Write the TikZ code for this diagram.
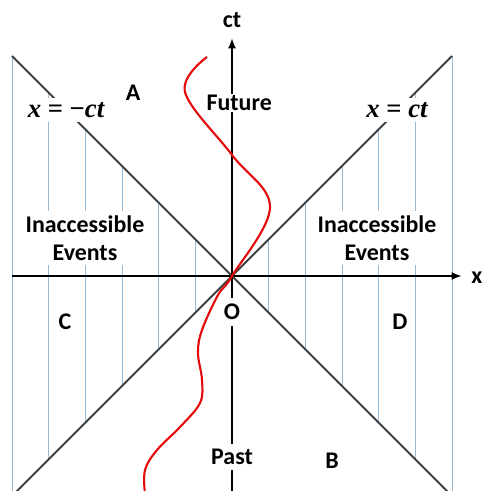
\documentclass[tikz,border=0pt]{standalone}
\usepackage{fontspec}
\setmainfont{Carlito}
\newfontfamily\eqfont{Liberation Serif}
\usepackage{tikz}
\usetikzlibrary{
  arrows.meta,
  positioning
}
\definecolor{conegray}{RGB}{64,64,64}
\definecolor{hatchblue}{RGB}{150,186,214}
\definecolor{worldred}{RGB}{228,10,10}

\begin{document}
\begin{tikzpicture}[
            lbl/.style={fill=white, inner sep=1pt, align=center, font=\fontsize{17}{20}\selectfont\bfseries},
            mlbl/.style={fill=white, inner sep=3pt, font=\fontsize{19}{22}\selectfont\eqfont\bfseries},
            cone/.style={draw=conegray, line width=1.3pt},
            hatch/.style={draw=hatchblue, line width=0.7pt},
            axis/.style={draw=black, line width=1.4pt, -{Latex[length=2.6mm,width=2mm]}}
        ]
            \useasboundingbox (-5.8,-5.375) rectangle (6.225,6.9);
            % hatching of the inaccessible regions
            \foreach \k in {1,...,6} {
                \draw[hatch] ({\k*5.5/6},{\k*5.5/6}) -- ({\k*5.5/6},{-\k*5.5/6});
                \draw[hatch] ({-\k*5.5/6},{\k*5.5/6}) -- ({-\k*5.5/6},{-\k*5.5/6});
            }
            % light cone
            \coordinate (O) at (0,0);
            \coordinate (ul) at (-5.5,5.5);
            \coordinate (ur) at (5.5,5.5);
            \coordinate (ll) at (-5.5,-5.5);
            \coordinate (lr) at (5.5,-5.5);
            \draw[cone] (ul) -- (lr);
            \draw[cone] (ll) -- (ur);
            % axes
            \coordinate (xl) at (-5.5,0);
            \coordinate (xr) at (5.75,0);
            \coordinate (tb) at (0,-5.5);
            \coordinate (tt) at (0,5.95);
            \draw[axis] (xl) -- (xr);
            \draw[axis] (tb) -- (tt);
            \node[font=\fontsize{17}{20}\selectfont\bfseries, anchor=west, inner sep=0pt] (xlab) at (5.98,-0.05) {x};
            \node[font=\fontsize{17}{20}\selectfont\bfseries] (ctlab) at (0,6.4) {ct};
            % region labels
            \node[lbl] (future) at (0.18,4.325) {Future};
            \node[lbl, inner sep=4pt] (orig) at (0,-0.9) {O};
            \node[lbl, inner sep=4pt] (past) at (0,-4.525) {Past};
            \node[lbl] (regA) at (-2.475,4.575) {A};
            \node[lbl] (regB) at (2.5,-4.625) {B};
            \node[lbl] (regC) at (-4.175,-1.15) {C};
            \node[lbl] (regD) at (4.2,-1.15) {D};
            \node[lbl, inner sep=3pt] (inacl) at (-3.675,0.95) {Inaccessible\\Events};
            \node[lbl, inner sep=3pt] (inacr) at (3.625,0.95) {Inaccessible\\Events};
            \node[mlbl] (negline) at (-4.15,4.15) {\itshape x\upshape{} = −\itshape ct};
            \node[mlbl] (posline) at (4.125,4.15) {\itshape x\upshape{} = \itshape ct};
            % world line
            \draw[worldred, line width=1.5pt] plot[smooth, tension=0.6] coordinates {
                (-0.625,5.475) (-1.175,4.6) (0,3.025) (0.95,1.725) (0,0)
                (-0.35,-0.475) (-0.75,-1.35) (-0.85,-1.925) (-0.75,-2.6)
                (-0.8,-3.175) (-1.3,-3.775) (-1.875,-4.35) (-2.175,-4.85) (-2.175,-5.45)
            };
        \end{tikzpicture}
\end{document}
